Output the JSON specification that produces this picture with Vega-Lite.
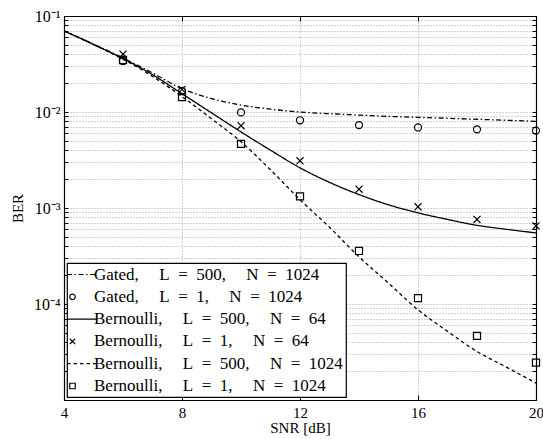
{
  "$schema": "https://vega.github.io/schema/vega-lite/v6.json",
  "width": 472,
  "height": 384,
  "autosize": {"type": "none"},
  "padding": {"left": 64, "top": 16, "right": 7, "bottom": 39},
  "background": "white",
  "config": {
    "view": {"stroke": "black", "strokeWidth": 1},
    "font": "Liberation Serif",
    "axis": {
      "labelFont": "Liberation Serif",
      "titleFont": "Liberation Serif",
      "labelFontSize": 15,
      "titleFontSize": 15,
      "titleFontWeight": "normal",
      "labelColor": "black",
      "titleColor": "black",
      "domainColor": "black",
      "domainWidth": 1.2,
      "tickColor": "black",
      "gridColor": "#8a8a8a",
      "gridDash": [1, 2],
      "gridOpacity": 1,
      "gridWidth": 0.8
    },
    "legend": {
      "orient": "bottom-left",
      "offset": 3,
      "strokeColor": "black",
      "strokeWidth": 1.2,
      "fillColor": "white",
      "padding": 3,
      "labelFont": "Liberation Serif",
      "labelFontSize": 17,
      "labelColor": "black",
      "labelLimit": 0,
      "labelOffset": 13,
      "symbolOffset": -6,
      "rowPadding": 4.3,
      "symbolSize": 30,
      "symbolStrokeWidth": 1.2,
      "symbolStrokeColor": "black",
      "symbolFillColor": "white"
    }
  },
  "datasets": {
    "curves": [
      {"snr": 4, "ber": 0.070, "series": "Gated, L = 500, N = 1024"},
      {"snr": 5, "ber": 0.051, "series": "Gated, L = 500, N = 1024"},
      {"snr": 6, "ber": 0.0365, "series": "Gated, L = 500, N = 1024"},
      {"snr": 7, "ber": 0.0255, "series": "Gated, L = 500, N = 1024"},
      {"snr": 8, "ber": 0.0175, "series": "Gated, L = 500, N = 1024"},
      {"snr": 9, "ber": 0.0138, "series": "Gated, L = 500, N = 1024"},
      {"snr": 10, "ber": 0.0118, "series": "Gated, L = 500, N = 1024"},
      {"snr": 11, "ber": 0.0107, "series": "Gated, L = 500, N = 1024"},
      {"snr": 12, "ber": 0.0100, "series": "Gated, L = 500, N = 1024"},
      {"snr": 13, "ber": 0.0096, "series": "Gated, L = 500, N = 1024"},
      {"snr": 14, "ber": 0.0093, "series": "Gated, L = 500, N = 1024"},
      {"snr": 15, "ber": 0.0090, "series": "Gated, L = 500, N = 1024"},
      {"snr": 16, "ber": 0.0088, "series": "Gated, L = 500, N = 1024"},
      {"snr": 17, "ber": 0.0086, "series": "Gated, L = 500, N = 1024"},
      {"snr": 18, "ber": 0.0084, "series": "Gated, L = 500, N = 1024"},
      {"snr": 19, "ber": 0.0082, "series": "Gated, L = 500, N = 1024"},
      {"snr": 20, "ber": 0.0080, "series": "Gated, L = 500, N = 1024"},
      {"snr": 4, "ber": 0.070, "series": "Bernoulli, L = 500, N = 64"},
      {"snr": 5, "ber": 0.0505, "series": "Bernoulli, L = 500, N = 64"},
      {"snr": 6, "ber": 0.036, "series": "Bernoulli, L = 500, N = 64"},
      {"snr": 7, "ber": 0.0245, "series": "Bernoulli, L = 500, N = 64"},
      {"snr": 8, "ber": 0.0155, "series": "Bernoulli, L = 500, N = 64"},
      {"snr": 9, "ber": 0.0098, "series": "Bernoulli, L = 500, N = 64"},
      {"snr": 10, "ber": 0.0062, "series": "Bernoulli, L = 500, N = 64"},
      {"snr": 11, "ber": 0.0040, "series": "Bernoulli, L = 500, N = 64"},
      {"snr": 12, "ber": 0.00262, "series": "Bernoulli, L = 500, N = 64"},
      {"snr": 13, "ber": 0.00185, "series": "Bernoulli, L = 500, N = 64"},
      {"snr": 14, "ber": 0.00138, "series": "Bernoulli, L = 500, N = 64"},
      {"snr": 15, "ber": 0.00108, "series": "Bernoulli, L = 500, N = 64"},
      {"snr": 16, "ber": 0.00089, "series": "Bernoulli, L = 500, N = 64"},
      {"snr": 17, "ber": 0.00076, "series": "Bernoulli, L = 500, N = 64"},
      {"snr": 18, "ber": 0.00066, "series": "Bernoulli, L = 500, N = 64"},
      {"snr": 19, "ber": 0.00060, "series": "Bernoulli, L = 500, N = 64"},
      {"snr": 20, "ber": 0.00055, "series": "Bernoulli, L = 500, N = 64"},
      {"snr": 4, "ber": 0.070, "series": "Bernoulli, L = 500, N = 1024"},
      {"snr": 5, "ber": 0.0505, "series": "Bernoulli, L = 500, N = 1024"},
      {"snr": 6, "ber": 0.0355, "series": "Bernoulli, L = 500, N = 1024"},
      {"snr": 7, "ber": 0.0235, "series": "Bernoulli, L = 500, N = 1024"},
      {"snr": 8, "ber": 0.0145, "series": "Bernoulli, L = 500, N = 1024"},
      {"snr": 9, "ber": 0.0085, "series": "Bernoulli, L = 500, N = 1024"},
      {"snr": 10, "ber": 0.0049, "series": "Bernoulli, L = 500, N = 1024"},
      {"snr": 11, "ber": 0.0025, "series": "Bernoulli, L = 500, N = 1024"},
      {"snr": 12, "ber": 0.00122, "series": "Bernoulli, L = 500, N = 1024"},
      {"snr": 13, "ber": 0.00063, "series": "Bernoulli, L = 500, N = 1024"},
      {"snr": 14, "ber": 0.00031, "series": "Bernoulli, L = 500, N = 1024"},
      {"snr": 15, "ber": 0.000165, "series": "Bernoulli, L = 500, N = 1024"},
      {"snr": 16, "ber": 0.000087, "series": "Bernoulli, L = 500, N = 1024"},
      {"snr": 17, "ber": 0.000052, "series": "Bernoulli, L = 500, N = 1024"},
      {"snr": 18, "ber": 0.000032, "series": "Bernoulli, L = 500, N = 1024"},
      {"snr": 19, "ber": 0.000022, "series": "Bernoulli, L = 500, N = 1024"},
      {"snr": 20, "ber": 0.000015, "series": "Bernoulli, L = 500, N = 1024"}
    ],
    "markers": [
      {"snr": 6, "ber": 0.034, "series": "Gated, L = 1, N = 1024"},
      {"snr": 8, "ber": 0.0165, "series": "Gated, L = 1, N = 1024"},
      {"snr": 10, "ber": 0.0099, "series": "Gated, L = 1, N = 1024"},
      {"snr": 12, "ber": 0.0082, "series": "Gated, L = 1, N = 1024"},
      {"snr": 14, "ber": 0.0073, "series": "Gated, L = 1, N = 1024"},
      {"snr": 16, "ber": 0.0069, "series": "Gated, L = 1, N = 1024"},
      {"snr": 18, "ber": 0.0066, "series": "Gated, L = 1, N = 1024"},
      {"snr": 20, "ber": 0.0064, "series": "Gated, L = 1, N = 1024"},
      {"snr": 6, "ber": 0.040, "series": "Bernoulli, L = 1, N = 64"},
      {"snr": 8, "ber": 0.0172, "series": "Bernoulli, L = 1, N = 64"},
      {"snr": 10, "ber": 0.0072, "series": "Bernoulli, L = 1, N = 64"},
      {"snr": 12, "ber": 0.0031, "series": "Bernoulli, L = 1, N = 64"},
      {"snr": 14, "ber": 0.00157, "series": "Bernoulli, L = 1, N = 64"},
      {"snr": 16, "ber": 0.00103, "series": "Bernoulli, L = 1, N = 64"},
      {"snr": 18, "ber": 0.00076, "series": "Bernoulli, L = 1, N = 64"},
      {"snr": 20, "ber": 0.00065, "series": "Bernoulli, L = 1, N = 64"},
      {"snr": 6, "ber": 0.0348, "series": "Bernoulli, L = 1, N = 1024"},
      {"snr": 8, "ber": 0.0143, "series": "Bernoulli, L = 1, N = 1024"},
      {"snr": 10, "ber": 0.00465, "series": "Bernoulli, L = 1, N = 1024"},
      {"snr": 12, "ber": 0.00132, "series": "Bernoulli, L = 1, N = 1024"},
      {"snr": 14, "ber": 0.000357, "series": "Bernoulli, L = 1, N = 1024"},
      {"snr": 16, "ber": 0.000115, "series": "Bernoulli, L = 1, N = 1024"},
      {"snr": 18, "ber": 0.0000466, "series": "Bernoulli, L = 1, N = 1024"},
      {"snr": 20, "ber": 0.0000245, "series": "Bernoulli, L = 1, N = 1024"}
    ]
  },
  "layer": [
    {
      "data": {"name": "curves"},
      "mark": {"type": "line", "color": "black", "strokeWidth": 1.3, "interpolate": "monotone", "clip": true},
      "encoding": {
        "x": {
          "field": "snr", "type": "quantitative",
          "scale": {"domain": [4, 20]},
          "axis": {"orient": "bottom", "values": [4, 8, 12, 16, 20], "title": "SNR [dB]", "grid": true, "tickSize": -5, "labelPadding": 10, "titlePadding": 0, "labelFlush": false}
        },
        "y": {
          "field": "ber", "type": "quantitative",
          "scale": {"type": "log", "domain": [0.0000105, 0.1]},
          "axis": {
            "orient": "left", "title": "BER", "grid": true, "tickSize": -4, "labelPadding": 8, "titlePadding": 8, "labelFontSize": 16,
            "values": [0.00002, 0.00003, 0.00004, 0.00005, 0.00006, 0.00007, 0.00008, 0.00009, 0.0001, 0.0002, 0.0003, 0.0004, 0.0005, 0.0006, 0.0007, 0.0008, 0.0009, 0.001, 0.002, 0.003, 0.004, 0.005, 0.006, 0.007, 0.008, 0.009, 0.01, 0.02, 0.03, 0.04, 0.05, 0.06, 0.07, 0.08, 0.09, 0.1],
            "labelExpr": "datum.value == 0.1 ? '10⁻¹' : datum.value == 0.01 ? '10⁻²' : datum.value == 0.001 ? '10⁻³' : datum.value == 0.0001 ? '10⁻⁴' : ''"
          }
        },
        "strokeDash": {
          "field": "series", "type": "nominal",
          "scale": {
            "domain": ["Gated, L = 500, N = 1024", "Gated, L = 1, N = 1024", "Bernoulli, L = 500, N = 64", "Bernoulli, L = 1, N = 64", "Bernoulli, L = 500, N = 1024", "Bernoulli, L = 1, N = 1024"],
            "range": [[5, 2.5, 1.5, 2.5], [1, 0], [1, 0], [1, 0], [3.5, 3], [1, 0]]
          },
          "legend": {"title": null, "symbolSize": 30, "symbolOffset": -6, "labelFont": "Liberation Serif", "labelFontSize": 17, "labelOffset": 13, "labelExpr": "replace(replace(datum.label, regexp(', ', 'g'), ',\u2003\u2009'), regexp(' = ', 'g'), '\u2002=\u2002')"}
        }
      }
    },
    {
      "data": {"name": "markers"},
      "mark": {"type": "point", "filled": false, "color": "black", "strokeWidth": 1.2, "opacity": 1},
      "encoding": {
        "x": {
          "field": "snr", "type": "quantitative",
          "axis": {"orient": "top", "values": [4, 8, 12, 16, 20], "title": null, "labels": false, "grid": false, "tickSize": -5}
        },
        "y": {
          "field": "ber", "type": "quantitative",
          "axis": {
            "orient": "right", "title": null, "labels": false, "grid": false, "tickSize": -4,
            "values": [0.00002, 0.00003, 0.00004, 0.00005, 0.00006, 0.00007, 0.00008, 0.00009, 0.0001, 0.0002, 0.0003, 0.0004, 0.0005, 0.0006, 0.0007, 0.0008, 0.0009, 0.001, 0.002, 0.003, 0.004, 0.005, 0.006, 0.007, 0.008, 0.009, 0.01, 0.02, 0.03, 0.04, 0.05, 0.06, 0.07, 0.08, 0.09, 0.1]
          }
        },
        "size": {"value": 50},
        "shape": {
          "field": "series", "type": "nominal",
          "scale": {
            "domain": ["Gated, L = 500, N = 1024", "Gated, L = 1, N = 1024", "Bernoulli, L = 500, N = 64", "Bernoulli, L = 1, N = 64", "Bernoulli, L = 500, N = 1024", "Bernoulli, L = 1, N = 1024"],
            "range": ["M-2.0,0H8.9", "circle", "M-2.0,0H8.9", "M-1,-1L1,1M-1,1L1,-1", "M-2.0,0H8.9", "square"]
          },
          "legend": {"title": null, "symbolSize": 30, "symbolOffset": -6, "labelFont": "Liberation Serif", "labelFontSize": 17, "labelOffset": 13, "labelExpr": "replace(replace(datum.label, regexp(', ', 'g'), ',\u2003\u2009'), regexp(' = ', 'g'), '\u2002=\u2002')"}
        }
      }
    }
  ]
}
